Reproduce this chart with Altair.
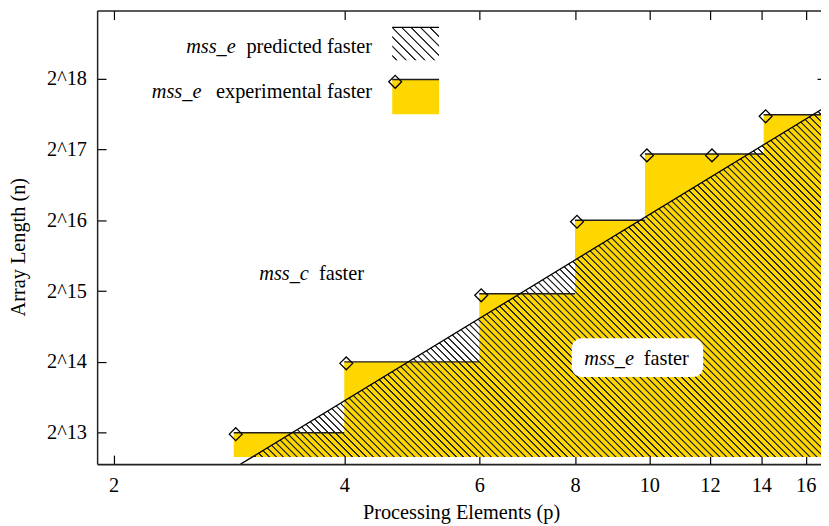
import math
import altair as alt
import pandas as pd

# ---------------- data ----------------
exp_p = [2.87, 4.0, 6.0, 8.0, 9.87, 12.0, 14.1]            # experimental crossover (p)
exp_n = [8192, 16384, 31900, 65536, 125500, 125500, 184000]  # experimental crossover (n)
pred_p = [2.93, 3.033, 17.0]                                # predicted boundary (p)
pred_n = [6025, 6450, 199000]                               # predicted boundary (n)
fill_floor = 6450                                           # bottom of the filled regions
x_ticks = [2, 4, 6, 8, 10, 12, 14, 16]
y_ticks = [8192, 16384, 32768, 65536, 131072, 262144]
x_domain = [1.9039, 16.75]
y_domain = [6025, 510750]

W, H = 731, 458
FONT = "Liberation Serif"
FS = 20.5
GOLD = "#FFD700"
FRAME = "#222222"

# ---------------- tables ----------------
p_end = exp_p[1:] + [x_domain[1]]
df_steps = pd.DataFrame({"p": exp_p, "p_end": p_end, "n": exp_n})
df_fill = pd.DataFrame({"p": exp_p + [x_domain[1]], "n": exp_n + [exp_n[-1]], "floor": fill_floor})
df_pred = pd.DataFrame({"p": pred_p, "n": pred_n})
df_pred_area = df_pred[df_pred["n"] >= fill_floor].copy()
df_pred_area["floor"] = fill_floor
one = pd.DataFrame({"k": [0]})

xs = alt.Scale(type="log", domain=x_domain, nice=False)
ys = alt.Scale(type="log", domain=y_domain, nice=False)


def xpix(p):
    return W * (math.log(p) - math.log(x_domain[0])) / (math.log(x_domain[1]) - math.log(x_domain[0]))


def ypix(n):
    return H * (math.log(y_domain[1]) - math.log(n)) / (math.log(y_domain[1]) - math.log(y_domain[0]))


def hatch(bw, bh, spacing, lw=0.7, soft=0.55, rgb="35,35,35"):
    """Linear gradient (bounding-box units) that draws 45-degree '\\' stripes."""
    r = bh / bw
    gx2 = (1 + r) / (1 + r * r)
    gy2 = 1 - gx2 * r
    span = (bw + bh) / math.sqrt(2)
    period = spacing / (bw + bh)
    lw_t = lw / span
    soft_t = soft / span
    dark = f"rgba({rgb},1)"
    clear = f"rgba({rgb},0)"
    stops = [{"offset": 0, "color": clear}]
    last = 0.0
    k = 0
    while True:
        c = (k + 0.5) * period
        if c > 1:
            break
        for off, col in [(c - lw_t / 2 - soft_t, clear), (c - lw_t / 2, dark),
                         (c + lw_t / 2, dark), (c + lw_t / 2 + soft_t, clear)]:
            off = min(max(off, last), 1.0)
            stops.append({"offset": round(off, 6), "color": col})
            last = off
        k += 1
    stops.append({"offset": 1, "color": clear})
    return {"gradient": "linear", "x1": 0, "y1": 1, "x2": gx2, "y2": gy2, "stops": stops}


area_w = xpix(max(df_pred_area["p"])) - xpix(min(df_pred_area["p"]))
area_h = ypix(fill_floor) - ypix(max(df_pred_area["n"]))
big_hatch = hatch(area_w, area_h, 7.0)

lab = dict(labelFont=FONT, labelFontSize=FS, labelColor="black", labelOverlap=False, labelFlush=False)
tick_style = dict(labels=False, grid=False, ticks=True, tickSize=9,
                  tickColor="black", tickWidth=1.2, title=None,
                  domainColor=FRAME, domainWidth=1.5)

main_x = alt.Axis(values=x_ticks, format="d", orient="bottom", ticks=False, domain=True,
                  domainColor=FRAME, domainWidth=1.8, grid=False,
                  labelPadding=28, labelBaseline="alphabetic", title=None, **lab)
main_y = alt.Axis(values=y_ticks, orient="left", ticks=False, domain=False, grid=False,
                  labelExpr="'2^' + round(log(datum.value) / LN2)", labelPadding=10.7,
                  labelBaseline="middle", title=None, **lab)
ax_bottom_in = alt.Axis(values=x_ticks, orient="top", offset=-H, domain=False, **tick_style)
ax_left_in = alt.Axis(values=y_ticks, orient="right", offset=-W, domain=True, **tick_style)
ax_top_in = alt.Axis(values=x_ticks, orient="bottom", offset=-H, domain=True, **tick_style)
# right frame lies just beyond the visible picture; only the inner ends of its ticks show
ax_right_in = alt.Axis(values=y_ticks, orient="left", offset=-(W + 5), domain=False, **tick_style)

# yellow experimental region
fill_layer = alt.Chart(df_fill).mark_area(color=GOLD, interpolate="step-after", clip=True).encode(
    x=alt.X("p:Q", scale=xs, axis=main_x),
    y=alt.Y("n:Q", scale=ys, axis=main_y),
    y2="floor:Q",
)

# hatched predicted region
hatch_layer = alt.Chart(df_pred_area).mark_area(fill=big_hatch, clip=True).encode(
    x=alt.X("p:Q", scale=xs, axis=ax_bottom_in),
    y=alt.Y("n:Q", scale=ys, axis=ax_left_in),
    y2="floor:Q",
)

# step tops
step_layer = alt.Chart(df_steps).mark_rule(color="#1e1e1e", strokeWidth=1.5, clip=True).encode(
    x=alt.X("p:Q", scale=xs, axis=ax_top_in),
    x2="p_end:Q",
    y=alt.Y("n:Q", scale=ys, axis=ax_right_in),
)

# predicted boundary line
pred_line = alt.Chart(df_pred).mark_line(color="black", strokeWidth=1.3, clip=True).encode(
    x=alt.X("p:Q", scale=xs, axis=None),
    y=alt.Y("n:Q", scale=ys, axis=None),
)

# diamonds
points = alt.Chart(df_steps).mark_point(shape="diamond", size=169, filled=False, color="black",
                                        strokeWidth=1.3, opacity=1, xOffset=2, yOffset=1.5).encode(
    x=alt.X("p:Q", scale=xs, axis=None),
    y=alt.Y("n:Q", scale=ys, axis=None),
)


def text(s, x, y, italic=False, align="left", angle=0):
    kw = dict(font=FONT, fontSize=FS, color="black", align=align, baseline="alphabetic",
              fontStyle="italic" if italic else "normal")
    if angle:
        kw["angle"] = angle
    return alt.Chart(one).mark_text(**kw).encode(
        x=alt.value(x), y=alt.value(y), text=alt.value(s))


def rect(x, x2, y, y2, **kw):
    return alt.Chart(one).mark_rect(**kw).encode(
        x=alt.value(x), x2=alt.value(x2), y=alt.value(y), y2=alt.value(y2))


def hline(x, x2, y, **kw):
    return alt.Chart(one).mark_rule(**kw).encode(x=alt.value(x), x2=alt.value(x2), y=alt.value(y))


legend_hatch = hatch(47.3, 33.3, 9.5)

annotations = [
    rect(479.3, 612, 331, 370, color="white", cornerRadius=10),
    text("mss_e", 492, 358, italic=True),
    text("faster", 552, 358),
    text("mss_c", 163.7, 272, italic=True),
    text("faster", 224, 272),
    # key
    text("mss_e", 140, 42.7, italic=True, align="right"),
    text("predicted faster", 277.7, 42.7, align="right"),
    text("mss_e", 105.3, 88.7, italic=True, align="right"),
    text("experimental faster", 277.7, 88.7, align="right"),
    rect(298, 345.3, 17, 50.3, fill=legend_hatch),
    hline(298, 345.3, 17, color="black", strokeWidth=1.3),
    rect(298, 345.3, 69.7, 104.7, color=GOLD),
    hline(298, 345.3, 69.7, color="#1e1e1e", strokeWidth=1.5),
    alt.Chart(one).mark_point(shape="diamond", size=169, filled=False, color="black",
                              strokeWidth=1.3, opacity=1).encode(x=alt.value(301), y=alt.value(72)),
    # axis titles
    text("Processing Elements (p)", 368, 513, align="center"),
    text("Array Length (n)", -72.5, 239, align="center", angle=270),
]

chart = alt.layer(fill_layer, hatch_layer, step_layer, pred_line, points, *annotations).resolve_axis(
    x="independent", y="independent"
).properties(
    width=W, height=H,
    autosize=alt.AutoSizeParams(type="none"),
    padding={"left": 90, "top": 0, "right": 0, "bottom": 60},
).configure_view(stroke=None)

chart.save("out.html", embed_options={"renderer": "svg", "actions": False})
